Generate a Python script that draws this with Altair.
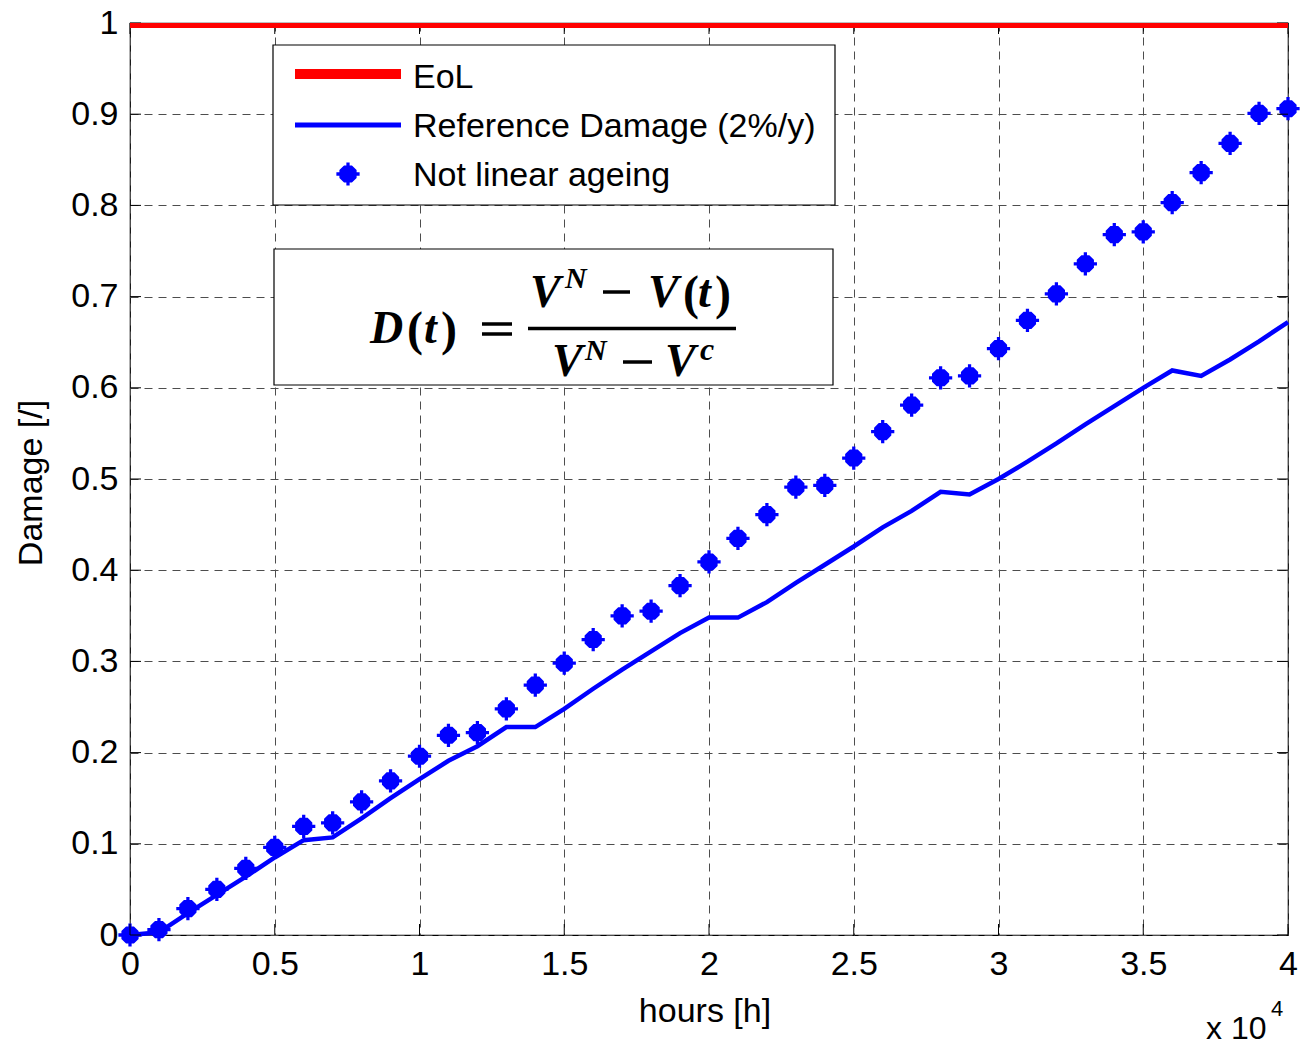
import altair as alt
import pandas as pd

# Operating hours (sampled every 1000 h)
hours = [0, 1000, 2000, 3000, 4000, 5000, 6000, 7000, 8000, 9000,
         10000, 11000, 12000, 13000, 14000, 15000, 16000, 17000, 18000, 19000,
         20000, 21000, 22000, 23000, 24000, 25000, 26000, 27000, 28000, 29000,
         30000, 31000, 32000, 33000, 34000, 35000, 36000, 37000, 38000, 39000,
         40000]

# Damage with not linear ageing (markers)
damage_nonlinear = [0.000, 0.006, 0.029, 0.050, 0.073, 0.096, 0.119, 0.123, 0.146, 0.169,
                    0.196, 0.219, 0.222, 0.248, 0.274, 0.298, 0.324, 0.350, 0.355, 0.383,
                    0.409, 0.435, 0.461, 0.491, 0.493, 0.523, 0.552, 0.581, 0.611, 0.613,
                    0.643, 0.674, 0.703, 0.736, 0.768, 0.771, 0.803, 0.836, 0.868, 0.901,
                    0.906]

# Reference damage, 2 % per year
damage_reference = [0.000, 0.003, 0.024, 0.044, 0.064, 0.085, 0.104, 0.107, 0.128, 0.150,
                    0.171, 0.191, 0.207, 0.228, 0.228, 0.248, 0.270, 0.291, 0.311, 0.331,
                    0.348, 0.348, 0.365, 0.386, 0.406, 0.426, 0.447, 0.465, 0.486, 0.483,
                    0.500, 0.519, 0.539, 0.560, 0.580, 0.600, 0.619, 0.613, 0.631, 0.651,
                    0.672]

# End of life threshold
eol_hours = [0, 40000]
eol_damage = [1.0, 1.0]

x_ticks = [0, 5000, 10000, 15000, 20000, 25000, 30000, 35000, 40000]
y_ticks = [0.0, 0.1, 0.2, 0.3, 0.4, 0.5, 0.6, 0.7, 0.8, 0.9, 1.0]

legend_labels = ["EoL", "Reference Damage (2%/y)", "Not linear ageing"]
x_title = "hours [h]"
y_title = "Damage [/]"

W, H = 1158, 912
SANS = "Liberation Sans"
SERIF = "Liberation Serif"
BLUE = "#0000ff"
RED = "#ff0000"
AXFS = 34

# filled blob with four short arms
MARKER = ("M-0.14,-1L0.14,-1L0.14,-0.74L0.34,-0.74L0.74,-0.34L0.74,-0.14L1,-0.14L1,0.14"
          "L0.74,0.14L0.74,0.34L0.34,0.74L0.14,0.74L0.14,1L-0.14,1L-0.14,0.74L-0.34,0.74"
          "L-0.74,0.34L-0.74,0.14L-1,0.14L-1,-0.14L-0.74,-0.14L-0.74,-0.34L-0.34,-0.74"
          "L-0.14,-0.74Z")
MSIZE = 540

series = pd.DataFrame({"hours": hours,
                       "nonlinear": damage_nonlinear,
                       "reference": damage_reference})
eol = pd.DataFrame({"hours": eol_hours, "damage": eol_damage})
xt = pd.DataFrame({"hours": x_ticks})
yt = pd.DataFrame({"damage": y_ticks})
one = pd.DataFrame({"k": [0]})

xs = alt.Scale(domain=[0, 40000], nice=False, zero=False)
ys = alt.Scale(domain=[0, 1], nice=False, zero=False)

x_axis = alt.Axis(values=x_ticks, labelExpr="toString(datum.value / 10000)", title=None,
                  grid=True, ticks=False, domain=False, labelFlush=False,
                  labelOverlap=False, labelAngle=0, labelPadding=12)
y_axis = alt.Axis(values=y_ticks, labelExpr="toString(datum.value)", title=None,
                  grid=True, ticks=False, domain=False, labelFlush=False,
                  labelOverlap=False, labelPadding=12)


def X(field):
    return alt.X(field, scale=xs, axis=x_axis, title=None)


def Y(field):
    return alt.Y(field, scale=ys, axis=y_axis, title=None)


ref_line = alt.Chart(series).mark_line(color=BLUE, strokeWidth=4.5).encode(
    x=X("hours:Q"), y=Y("reference:Q"))

points = alt.Chart(series).mark_point(shape=MARKER, filled=True, size=MSIZE,
                                      color=BLUE, opacity=1).encode(
    x=X("hours:Q"), y=Y("nonlinear:Q"))

eol_line = alt.Chart(eol).mark_line(color=RED, strokeWidth=10, clip=True).encode(
    x=X("hours:Q"), y=Y("damage:Q"))

# inward tick marks on all four sides
TL = 11
tick_bottom = alt.Chart(xt).mark_rule(color="black", strokeWidth=1).encode(
    x=X("hours:Q"), y=alt.value(H), y2=alt.value(H - TL))
tick_top = alt.Chart(xt).mark_rule(color="black", strokeWidth=1).encode(
    x=X("hours:Q"), y=alt.value(0), y2=alt.value(TL))
tick_left = alt.Chart(yt).mark_rule(color="black", strokeWidth=1).encode(
    y=Y("damage:Q"), x=alt.value(0), x2=alt.value(TL))
tick_right = alt.Chart(yt).mark_rule(color="black", strokeWidth=1).encode(
    y=Y("damage:Q"), x=alt.value(W), x2=alt.value(W - TL))


def box(x1, x2, y1, y2, sw=1.2):
    return alt.Chart(one).mark_rect(fill="white", stroke="black", strokeWidth=sw).encode(
        x=alt.value(x1), x2=alt.value(x2), y=alt.value(y1), y2=alt.value(y2))


def hrule(x1, x2, y, color, sw):
    return alt.Chart(one).mark_rule(color=color, strokeWidth=sw).encode(
        x=alt.value(x1), x2=alt.value(x2), y=alt.value(y))


def label(txt, x, y, size, font=SANS, weight="normal", style="normal",
          align="left", baseline="alphabetic", angle=0):
    return alt.Chart(one).mark_text(text=txt, font=font, fontSize=size,
                                    fontWeight=weight, fontStyle=style, align=align,
                                    baseline=baseline, angle=angle, color="black").encode(
        x=alt.value(x), y=alt.value(y))


# legend
legend = [
    box(143, 705, 22, 182),
    hrule(165, 271, 51, RED, 10),
    hrule(165, 271, 102, BLUE, 5),
    alt.Chart(one).mark_point(shape=MARKER, filled=True, size=MSIZE, color=BLUE,
                              opacity=1).encode(x=alt.value(218), y=alt.value(151)),
    label(legend_labels[0], 283, 65, 34),
    label(legend_labels[1], 283, 114, 34),
    label(legend_labels[2], 283, 163, 34),
]

# damage definition D(t) = (V^N - V(t)) / (V^N - V^c)
FS, SS = 46, 30


def bi(txt, x, y, size=FS):
    return label(txt, x, y, size, SERIF, "bold", "italic")


def br(txt, x, y, size=FS + 2):
    return label(txt, x, y, size, SERIF, "bold")


formula = [
    box(144, 703, 226, 362),
    # left-hand side
    bi("D", 240, 320), br("(", 277, 322), bi("t", 294, 320), br(")", 311, 322),
    hrule(352, 382, 301, "black", 3.5), hrule(352, 382, 311, "black", 3.5),
    # fraction bar
    hrule(398, 606, 305.5, "black", 3.5),
    # numerator
    bi("V", 400, 284), bi("N", 435, 265, SS),
    hrule(473, 500, 269, "black", 3.5),
    bi("V", 518, 284), br("(", 553, 286), bi("t", 568, 284), br(")", 585, 286),
    # denominator
    bi("V", 422, 353), bi("N", 455, 337, SS),
    hrule(493, 522, 339, "black", 3.5),
    bi("V", 535, 353), bi("c", 570, 337, SS + 2),
]

# axis titles and exponent
titles = [
    label(x_title, 575, 999, AXFS, align="center"),
    label(y_title, -88, 460, AXFS, align="center", angle=270),
    label("x 10", 1076, 1016, 32),
    label("4", 1141, 993, 22),
]

chart = alt.layer(
    ref_line, points, tick_bottom, tick_top, tick_left, tick_right, eol_line,
    *legend, *formula, *titles,
).properties(
    width=W, height=H,
    padding={"left": 130, "top": 23, "right": 14, "bottom": 112},
    autosize=alt.AutoSizeParams(type="none"),
    background="white",
).configure_view(
    stroke="black", strokeWidth=1.2,
).configure_axis(
    labelFont=SANS, labelFontSize=AXFS, labelColor="black",
    gridColor="#4d4d4d", gridDash=[8, 6], gridWidth=1, gridOpacity=1,
)

chart.save("out.html", embed_options={"renderer": "svg", "actions": False})
